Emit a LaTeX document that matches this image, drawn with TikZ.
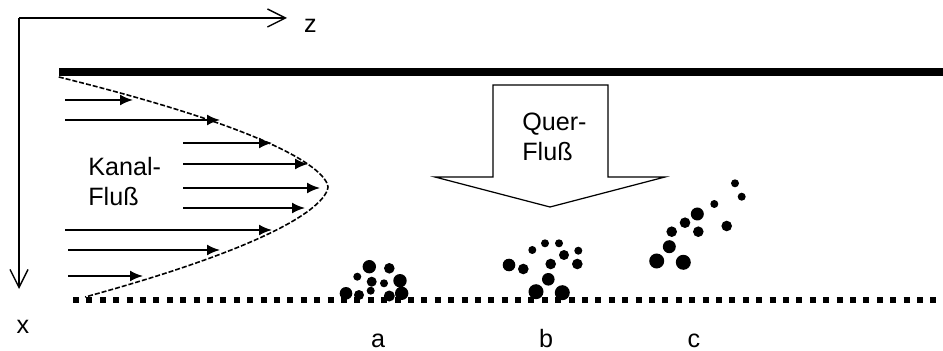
\documentclass[tikz,border=0pt]{standalone}
\usepackage{fontspec}
\setmainfont{Liberation Sans}
\usetikzlibrary{arrows.meta, positioning}

\begin{document}
\begin{tikzpicture}[x=0.02cm, y=-0.02cm,
            txt/.style={font=\fontsize{14.3pt}{17pt}\selectfont, inner sep=0pt},
            axis/.style={line width=0.8pt, -{Straight Barb[length=0.36cm, width=0.36cm]}},
            wall/.style={line width=0.15cm},
            flow/.style={line width=1.1pt, -{Latex[length=0.26cm, width=0.22cm]}},
            profile/.style={line width=0.9pt, dash pattern=on 0.1cm off 0.04cm},
            particle/.style={fill=black}]

            \useasboundingbox (0,0) rectangle (943,351);

            % Coordinate axes
            \coordinate (origin) at (19,18);
            \coordinate (zend) at (287,18);
            \coordinate (xend) at (19,289);
            \draw[axis] (origin) -- (zend);
            \draw[axis] (origin) -- (xend);
            \node[txt, anchor=base] (zlab) at (310.5,33) {z};
            \node[txt, anchor=base] (xlab) at (23,333) {x};

            % Channel walls: solid top, porous bottom
            \draw[wall] (59,72) -- (943,72);
            \draw[line width=0.12cm, dash pattern=on 0.12cm off 0.148cm] (73,300) -- (943,300);

            % Velocity profile of the channel flow
            \draw[profile] plot[domain=77:187, samples=40, variable=\t] ({328-0.1153*(187.01-\t)^1.65}, \t)
                -- plot[domain=187:297, samples=40, variable=\t] ({328-0.104*(\t-186.99)^1.65}, \t);
            \draw[flow] (65,100) -- (133,100);
            \draw[flow] (65,120) -- (220,120);
            \draw[flow] (183,143) -- (272,143);
            \draw[flow] (183,164) -- (308,164);
            \draw[flow] (183,188) -- (320,188);
            \draw[flow] (183,208) -- (305,208);
            \draw[flow] (65,230) -- (272,230);
            \draw[flow] (68,250) -- (220,250);
            \draw[flow] (68,276) -- (143,276);
            \node[txt, anchor=north west, align=left] (kanal) at (88,157) {Kanal-\\Fluß};

            % Cross flow arrow
            \draw[line width=0.7pt, fill=white] (493,85) -- (608,85) -- (608,177) -- (665,177)
                -- (550,207) -- (435,177) -- (493,177) -- cycle;
            \node[txt, anchor=north west, align=left] (quer) at (522,113) {Quer-\\Fluß};

            % Particle layers a, b, c
            \foreach \px/\py/\r in {369.3/266.7/6.7, 389.3/268.3/5.3, 357.3/276.7/4, 371.7/281.7/5,
                    384/283.3/4, 400/280.7/6.7, 370.7/290.7/4, 346/293.3/6.3, 359/295/5,
                    389.3/296/5.5, 401.7/293.3/6.7}
                \fill[particle] (\px,\py) circle[radius=\r*0.02cm];
            \foreach \px/\py/\r in {545/243.3/4, 559/243.3/4, 532.3/250/4, 578.3/250.7/4, 564/255/5,
                    509/265/6.3, 523.3/269/5.3, 550.7/264/5.3, 577.3/264/5.3, 548.3/279.3/6.3,
                    536/291.7/7.5, 562.3/292.7/7.5}
                \fill[particle] (\px,\py) circle[radius=\r*0.02cm];
            \foreach \px/\py/\r in {735/183.3/4, 741.7/196.7/4, 714.3/204/4, 697.3/214/6.5,
                    685/222.7/5.3, 726.7/226/5.3, 671.7/231.7/5.3, 698.3/231.7/5.3,
                    669.3/246.7/6.5, 656.7/261/7.5, 683.3/262.3/7.5}
                \fill[particle] (\px,\py) circle[radius=\r*0.02cm];

            \node[txt, anchor=base] (laba) at (378,347) {a};
            \node[txt, anchor=base] (labb) at (546,347) {b};
            \node[txt, anchor=base] (labc) at (694,347) {c};
        \end{tikzpicture}
\end{document}
